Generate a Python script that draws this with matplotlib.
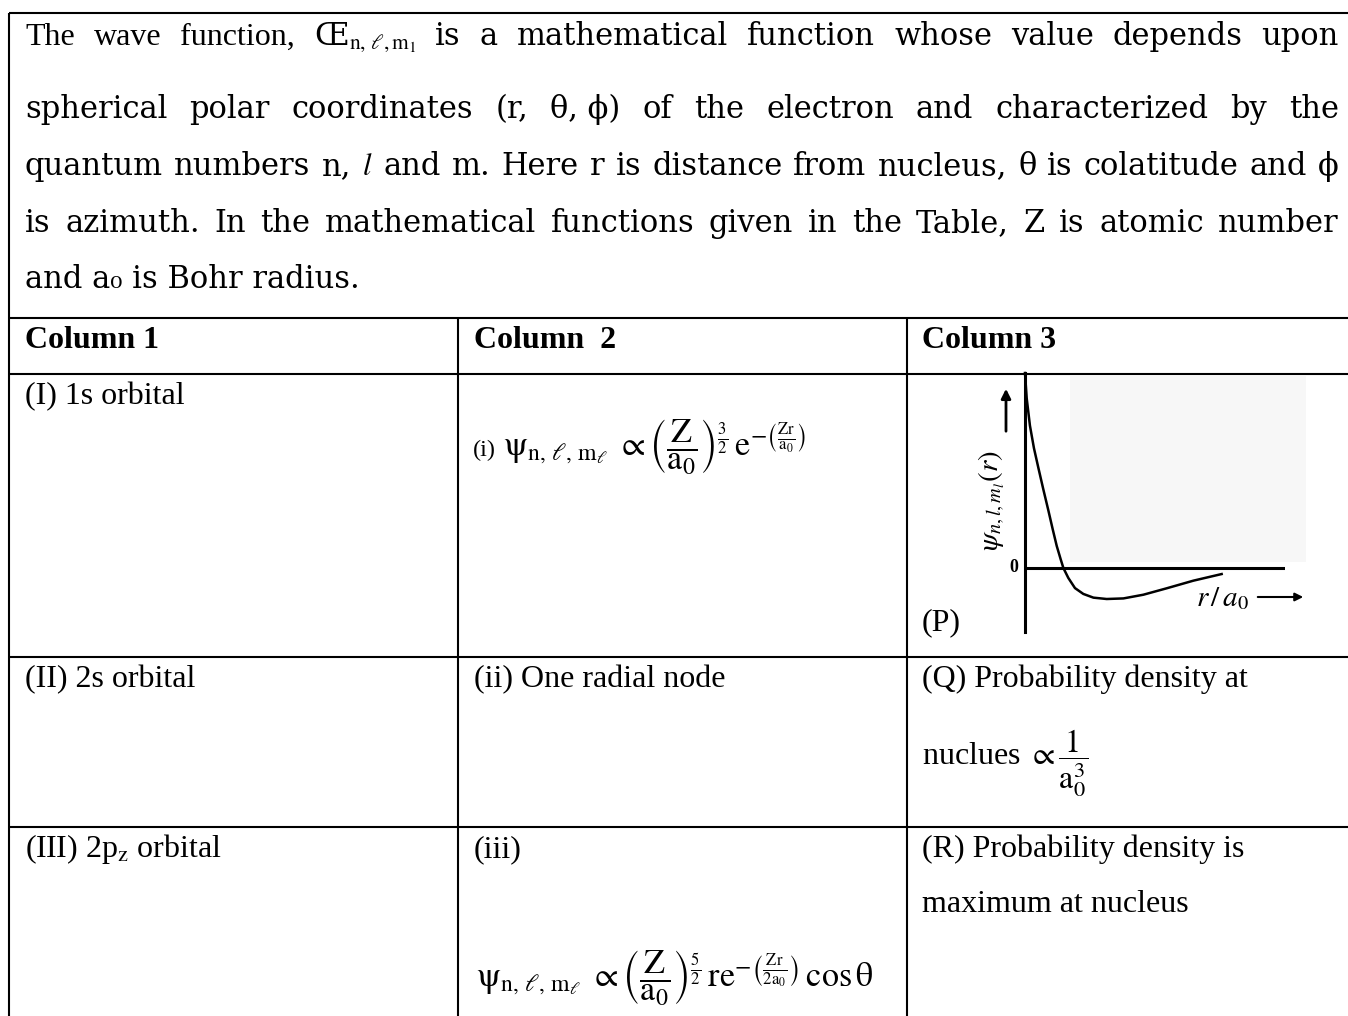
import matplotlib
matplotlib.use('Agg')
from matplotlib import pyplot as plt
from matplotlib.patches import Rectangle

plt.rcParams['mathtext.fontset'] = 'stix'

W, H = 1348, 1016

# intro paragraph, one list of words per justified line
line1_words = ['The', 'wave', 'function,', r'Œ$_{\mathrm{n},\,\ell,\mathrm{m}_1}$', 'is', 'a',
               'mathematical', 'function', 'whose', 'value', 'depends', 'upon']
line2_words = ['spherical', 'polar', 'coordinates', '(r,', 'θ, ϕ)', 'of', 'the', 'electron',
               'and', 'characterized', 'by', 'the']
line3_words = ['quantum', 'numbers', 'n,', r'$l$', 'and', 'm.', 'Here', 'r', 'is', 'distance',
               'from', 'nucleus,', 'θ', 'is', 'colatitude', 'and', 'ϕ']
line4_words = ['is', 'azimuth.', 'In', 'the', 'mathematical', 'functions', 'given', 'in', 'the',
               'Table,', 'Z', 'is', 'atomic', 'number']
last_line = 'and a₀ is Bohr radius.'

# table contents
headers = ['Column 1', 'Column  2', 'Column 3']
col1 = ['(I) 1s orbital', '(II) 2s orbital', r'(III) 2p$_\mathrm{z}$ orbital']
formula_i = (r'$\mathrm{\psi}_{\mathrm{n},\,\ell,\,\mathrm{m}_\ell}\ \propto\left(\dfrac{\mathrm{Z}}{\mathrm{a}_0}\right)'
             r'^{\frac{3}{2}}\,\mathrm{e}^{-\left(\frac{\mathrm{Zr}}{\mathrm{a}_0}\right)}$')
formula_iii = (r'$\mathrm{\psi}_{\mathrm{n},\,\ell,\,\mathrm{m}_\ell}\ \propto\left(\dfrac{\mathrm{Z}}{\mathrm{a}_0}\right)'
               r'^{\frac{5}{2}}\,\mathrm{re}^{-\left(\frac{\mathrm{Zr}}{2\mathrm{a}_0}\right)}\,\cos\mathrm{\theta}$')
col2_ii = '(ii) One radial node'
col3_q = ['(Q) Probability density at', r'nuclues $\propto\dfrac{1}{\mathrm{a}_0^3}$']
col3_r = ['(R) Probability density is', 'maximum at nucleus']

# radial wave function sketch (P)
r_a0 = [0, 0.09, 0.26, 0.47, 0.70, 0.96, 1.23, 1.46, 1.67, 1.88, 2.02, 2.28, 2.63, 3.07,
        3.60, 4.30, 5.18, 6.23, 7.46, 8.86, 10.35]
psi_2s = [1.0, 0.87, 0.73, 0.615, 0.515, 0.405, 0.295, 0.198, 0.113, 0.044, 0.0, -0.051,
          -0.103, -0.133, -0.152, -0.159, -0.156, -0.137, -0.104, -0.065, -0.031]

row_lines = [318, 374, 657, 827]
col_lines = [458, 907]
TABLE_FONT = 'Liberation Serif'
PARA_FONT = 'DejaVu Serif'


def justify(ax, words, y, x0, x1, renderer, families, sizes):
    '''
        Puts the words of one line so they fill x0..x1 with even gaps
    '''
    texts = [ax.text(x0, y, w, va='baseline', fontsize=s, family=f)
             for w, f, s in zip(words, families, sizes)]
    widths = [t.get_window_extent(renderer).width for t in texts]
    gap = (x1 - x0 - sum(widths)) / (len(words) - 1)
    x = x0
    for t, w in zip(texts, widths):
        t.set_x(x)
        x += w + gap
    return texts


fig = plt.figure(figsize=(W / 100, H / 100), dpi=100)
ax = fig.add_axes([0, 0, 1, 1])
ax.set_xlim(0, W)
ax.set_ylim(H, 0)
ax.axis('off')
renderer = fig.canvas.get_renderer()

# borders and grid of the table
ax.hlines(13, 9, W, color='k', lw=1.5)
ax.vlines(9, 13, H, color='k', lw=1.5)
ax.hlines(row_lines, 9, W, color='k', lw=1.5)
ax.vlines(col_lines, row_lines[0], H, color='k', lw=1.5)

# paragraph
PS = 22
n1 = len(line1_words)
justify(ax, line1_words, 45, 25, 1339, renderer,
        [TABLE_FONT] * 3 + [PARA_FONT] * (n1 - 3), [23] * 3 + [PS] * (n1 - 3))
for words, y in [(line2_words, 118), (line3_words, 175), (line4_words, 232)]:
    justify(ax, words, y, 25, 1339, renderer, [PARA_FONT] * len(words), [PS] * len(words))
ax.text(25, 288, last_line, va='baseline', fontsize=PS, family=PARA_FONT)

# headers
col_x = [25, 474, 922]
for x, h in zip(col_x, headers):
    ax.text(x, 348, h, va='baseline', fontsize=23, family=TABLE_FONT, weight='bold')

# column 1
for y, lab in zip([404, 687, 857], col1):
    ax.text(25, y, lab, va='baseline', fontsize=23, family=TABLE_FONT)

# column 2
ax.text(473, 456, '(i)', va='baseline', fontsize=17.5, family=TABLE_FONT)
ax.text(503, 456, formula_i, va='baseline', fontsize=24.5)
ax.text(474, 687, col2_ii, va='baseline', fontsize=23, family=TABLE_FONT)
ax.text(474, 857, '(iii)', va='baseline', fontsize=23, family=TABLE_FONT)
ax.text(476, 987, formula_iii, va='baseline', fontsize=24.5)

# column 3
ax.text(922, 687, col3_q[0], va='baseline', fontsize=23, family=TABLE_FONT)
ax.text(922, 765, col3_q[1], va='baseline', fontsize=23, family=TABLE_FONT)
ax.text(922, 857, col3_r[0], va='baseline', fontsize=23, family=TABLE_FONT)
ax.text(922, 912, col3_r[1], va='baseline', fontsize=23, family=TABLE_FONT)
ax.text(922, 630, '(P)', va='baseline', fontsize=23, family=TABLE_FONT)

# sketch (P): faint backdrop, labels, arrows
ax.add_patch(Rectangle((1070, 376), 236, 186, color='#f7f7f7', lw=0, zorder=0))
ax.text(992, 500, r'$\psi_{n,l,m_l}(r)$', rotation=90, ha='center', va='center', fontsize=21)
ax.annotate('', xy=(1006, 386), xytext=(1006, 434),
            arrowprops=dict(arrowstyle='-|>', color='k', lw=2, mutation_scale=14))
ax.text(1014, 568, '0', ha='center', va='center', fontsize=13, family=TABLE_FONT, weight='bold')
ax.text(1222, 598, r'$r\,/\,a_0$', ha='center', va='center', fontsize=21)
ax.annotate('', xy=(1306, 597), xytext=(1255, 597),
            arrowprops=dict(arrowstyle='-|>', color='k', lw=1.5, mutation_scale=12))

axp = fig.add_axes([1025 / W, 1 - 632 / H, 260 / W, (632 - 373) / H])
axp.patch.set_visible(False)
axp.plot(r_a0, psi_2s, color='k', lw=1.8, clip_on=False)
axp.axhline(0, color='k', lw=2.2)
axp.set_xlim(0, 260 / 19)
axp.set_ylim(-(632 - 568) / 195, (568 - 373) / 195)
for s in ['top', 'right', 'bottom']:
    axp.spines[s].set_visible(False)
axp.spines['left'].set_linewidth(2.2)
axp.set_xticks([])
axp.set_yticks([])

fig.savefig('out.png', dpi=100)
